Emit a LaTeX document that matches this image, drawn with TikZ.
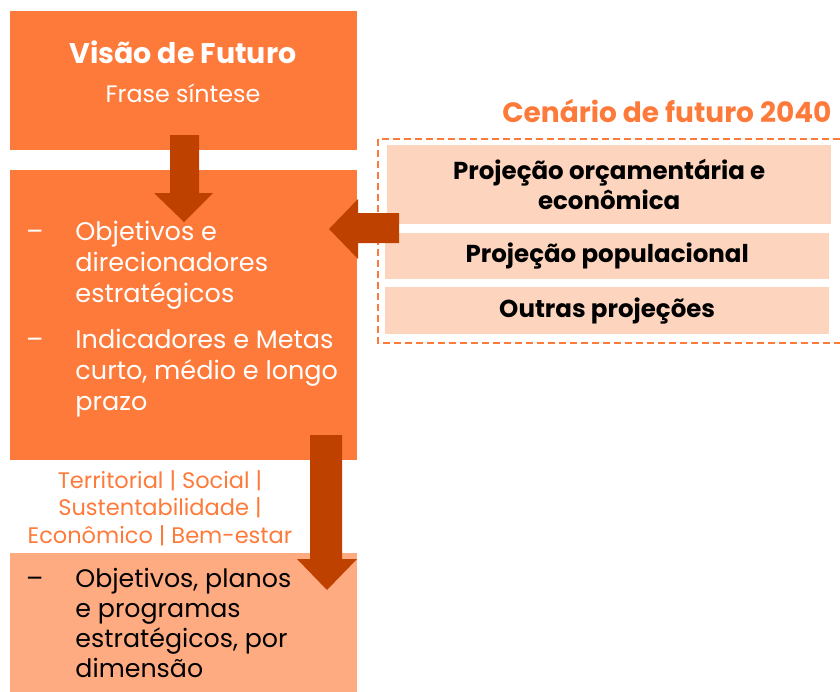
\documentclass[tikz,border=0pt]{standalone}
\usepackage{fontspec}
\setmainfont{Poppins}
\usetikzlibrary{positioning}
\definecolor{laranja}{HTML}{FE7A3A}
\definecolor{laranjaclaro}{HTML}{FFAB82}
\definecolor{pessego}{HTML}{FDD4BE}
\definecolor{ferrugem}{HTML}{BF4100}
\tikzset{
  x=1pt, y=-1pt,
  bloco/.style={rectangle, inner sep=0pt, anchor=north west},
  seta/.style={fill=ferrugem},
  lista/.style={inner sep=0pt, anchor=north west, align=left, font=\fontsize{25.5}{31}\selectfont},
  projecao/.style={bloco, fill=pessego, font=\bfseries\fontsize{24.5}{30}\selectfont, align=center},
}

\begin{document}
\begin{tikzpicture}
  \useasboundingbox (0,0) rectangle (840,691);

  % blocos da esquerda
  \node[bloco, fill=laranja, minimum width=347pt, minimum height=139pt] (visao) at (10,11) {};
  \node[bloco, fill=laranja, minimum width=347pt, minimum height=290pt] (objetivos) at (10,170) {};
  \node[bloco, fill=laranjaclaro, minimum width=347pt, minimum height=140pt] (planos) at (10,553) {};

  \node[text=white, font=\bfseries\fontsize{28.4}{30}\selectfont, anchor=base] (titulo) at (183,63) {Visão de Futuro};
  \node[text=white, font=\fontsize{23.8}{26}\selectfont, anchor=base] (frase) at (183,102) {Frase síntese};

  \node[lista, text=white] (itens) at (26,221) {%
    –\hspace{32pt}\parbox[t]{280pt}{Objetivos e\\direcionadores\\estratégicos}\\[19pt]
    –\hspace{32pt}\parbox[t]{280pt}{Indicadores e Metas\\curto, médio e longo\\prazo}};

  \node[text=laranja, font=\fontsize{22.5}{27.5}\selectfont, align=center, anchor=north] (dimensoes) at (160,467)
    {Territorial | Social |\\Sustentabilidade |\\Econômico | Bem-estar};

  \node[lista, text=black] (acoes) at (26,568) {%
    –\hspace{32pt}\parbox[t]{280pt}{\fontsize{25.3}{30}\selectfont Objetivos, planos\\e programas\\estratégicos, por\\dimensão}};

  % cenario de futuro
  \node[text=laranja, font=\bfseries\fontsize{28}{30}\selectfont, anchor=base east] (cenario) at (835,122) {Cenário de futuro 2040};
  \draw[laranja, dash pattern=on 7pt off 4pt, line width=1.5pt] (378,139) rectangle (845,343);
  \node[projecao, minimum width=444pt, minimum height=79pt] (orcamento) at (387,145) {Projeção orçamentária e\\econômica};
  \node[projecao, minimum width=444pt, minimum height=46pt] (populacao) at (385,233) {Projeção populacional};
  \node[projecao, minimum width=444pt, minimum height=47pt] (outras) at (385,287) {Outras projeções};

  % setas
  \fill[seta] (170,135) -- (199,135) -- (199,193) -- (213,193) -- (184,222) -- (154,193) -- (170,193) -- cycle;
  \fill[seta] (399,213) -- (399,243) -- (358,243) -- (358,259) -- (329,229) -- (358,199) -- (358,213) -- cycle;
  \fill[seta] (310,435) -- (342,435) -- (342,559) -- (357,559) -- (327,590) -- (297,559) -- (310,559) -- cycle;
\end{tikzpicture}
\end{document}
